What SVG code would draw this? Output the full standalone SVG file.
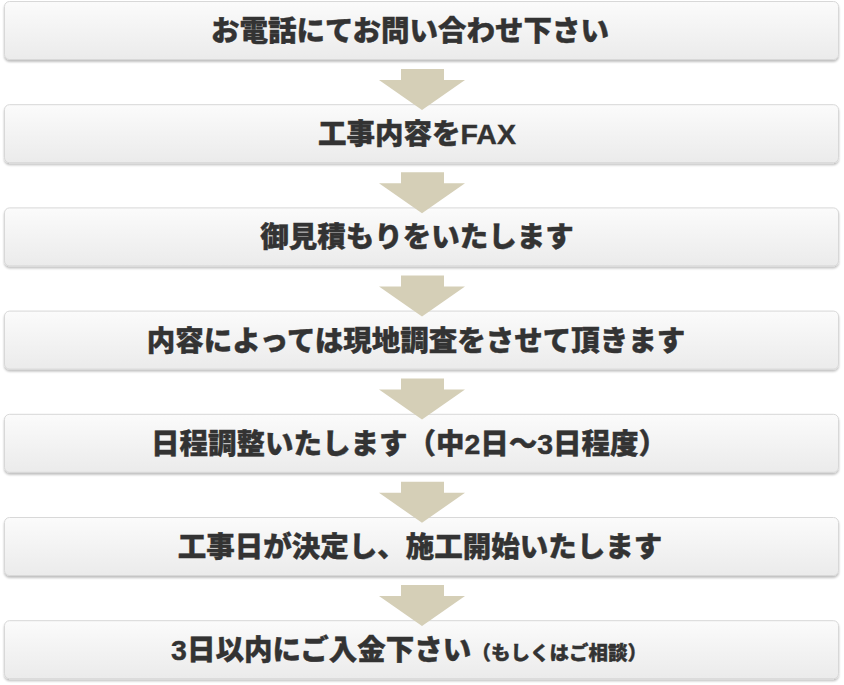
<svg xmlns="http://www.w3.org/2000/svg" width="844" height="685" viewBox="0 0 844 685">
<defs>
<linearGradient id="g" x1="0" y1="0" x2="0" y2="1">
<stop offset="0" stop-color="#fbfbfb"/>
<stop offset="1" stop-color="#ebebeb"/>
</linearGradient>
<filter id="sh" x="-2%" y="-10%" width="104%" height="130%">
<feGaussianBlur in="SourceAlpha" stdDeviation="1.2"/>
<feOffset dy="2" result="b"/>
<feComponentTransfer><feFuncA type="linear" slope="0.25"/></feComponentTransfer>
<feMerge><feMergeNode/><feMergeNode in="SourceGraphic"/></feMerge>
</filter>
<path id="arr" d="M401 0 H444 V11 H465 L422 41 L379 11 H401 Z" fill="#d5cfb7"/>
</defs>
<style>
.box{fill:url(#g);stroke:#d8d8d8;stroke-width:1;filter:url(#sh)}
.t{font-family:"Liberation Sans","Noto Sans CJK JP","Noto Sans CJK SC",sans-serif;font-weight:900;font-size:28.5px;fill:#333;text-anchor:middle;stroke:#333;stroke-width:0.4}
.s{font-size:19.5px}
</style>
<rect width="844" height="685" fill="#fff"/>
<g id="node1"><rect class="box" x="4.5" y="1.5" width="834" height="58" rx="5"/><text class="t" x="410" y="41">お電話にてお問い合わせ下さい</text></g>
<g id="node2"><rect class="box" x="4.5" y="104.7" width="834" height="58" rx="5"/><text class="t" x="417" y="144.2">工事内容をFAX</text></g>
<g id="node3"><rect class="box" x="4.5" y="207.9" width="834" height="58" rx="5"/><text class="t" x="417" y="247.4">御見積もりをいたします</text></g>
<g id="node4"><rect class="box" x="4.5" y="311.1" width="834" height="58" rx="5"/><text class="t" x="416" y="350.6">内容によっては現地調査をさせて頂きます</text></g>
<g id="node5"><rect class="box" x="4.5" y="414.3" width="834" height="58" rx="5"/><text class="t" x="409" y="453.8">日程調整いたします（中2日～3日程度）</text></g>
<g id="node6"><rect class="box" x="4.5" y="517.5" width="834" height="58" rx="5"/><text class="t" x="420" y="557">工事日が決定し、施工開始いたします</text></g>
<g id="node7"><rect class="box" x="4.5" y="620.7" width="834" height="58" rx="5"/><text class="t" x="409" y="660.2">3日以内にご入金下さい<tspan class="s">（もしくはご相談）</tspan></text></g>
<g id="connectors">
<use href="#arr" y="69"/>
<use href="#arr" y="172.2"/>
<use href="#arr" y="275.4"/>
<use href="#arr" y="378.6"/>
<use href="#arr" y="481.8"/>
<use href="#arr" y="585"/>
</g>
</svg>
